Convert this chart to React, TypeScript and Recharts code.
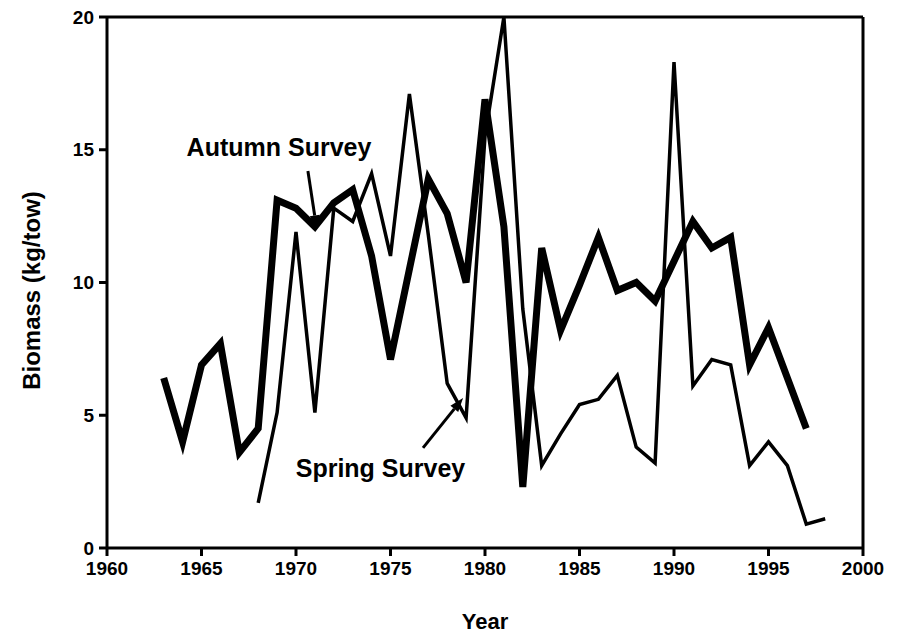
import React from "react";
import {
  LineChart,
  Line,
  XAxis,
  YAxis,
  ReferenceLine,
  ReferenceDot,
} from "recharts";

const years = [
  1963, 1964, 1965, 1966, 1967, 1968, 1969, 1970, 1971, 1972, 1973, 1974,
  1975, 1976, 1977, 1978, 1979, 1980, 1981, 1982, 1983, 1984, 1985, 1986,
  1987, 1988, 1989, 1990, 1991, 1992, 1993, 1994, 1995, 1996, 1997, 1998,
];

// thick line
const autumn = [
  6.4, 4.0, 6.9, 7.7, 3.6, 4.5, 13.1, 12.8, 12.1, 13.0, 13.5, 11.0,
  7.1, 10.5, 13.9, 12.6, 10.0, 16.9, 12.1, 2.3, 11.3, 8.2, 9.9, 11.7,
  9.7, 10.0, 9.3, 10.8, 12.3, 11.3, 11.7, 6.9, 8.3, 6.4, 4.5, null,
];

// thin line
const spring = [
  null, null, null, null, null, 1.7, 5.1, 11.9, 5.1, 12.8, 12.3, 14.1,
  11.0, 17.1, 11.8, 6.2, 4.9, 15.5, 20, 9.0, 3.1, 4.3, 5.4, 5.6,
  6.5, 3.8, 3.2, 18.3, 6.1, 7.1, 6.9, 3.1, 4.0, 3.1, 0.9, 1.1,
];

const xTicks = [1960, 1965, 1970, 1975, 1980, 1985, 1990, 1995, 2000];
const yTicks = [0, 5, 10, 15, 20];

const data = years.map((year, i) => ({
  year,
  autumn: autumn[i],
  spring: spring[i],
}));

const FONT = "'Liberation Sans', Arial, sans-serif";

const tickStyle = {
  fill: "#000",
  fontSize: 19,
  fontWeight: "bold" as const,
  fontFamily: FONT,
};

const Arrow = (props: any) => {
  const { x1, y1, x2, y2 } = props;
  if (x1 == null) return null;
  const ang = Math.atan2(y2 - y1, x2 - x1);
  const len = 14;
  const w = 5;
  const bx = x2 - len * Math.cos(ang);
  const by = y2 - len * Math.sin(ang);
  const px = -Math.sin(ang) * w;
  const py = Math.cos(ang) * w;
  return (
    <g>
      <line x1={x1} y1={y1} x2={bx} y2={by} stroke="#000" strokeWidth={3} />
      <polygon
        points={`${x2},${y2} ${bx + px},${by + py} ${bx - px},${by - py}`}
        fill="#000"
      />
    </g>
  );
};

const YTitle = (props: any) => {
  const vb = props.viewBox || {};
  const cx = 31;
  const cy = vb.y + vb.height / 2 + 8;
  return (
    <text
      x={cx}
      y={cy}
      transform={`rotate(-90, ${cx}, ${cy})`}
      textAnchor="middle"
      dominantBaseline="central"
      fill="#000"
      fontSize={24}
      fontWeight="bold"
      fontFamily={FONT}
    >
      Biomass (kg/tow)
    </text>
  );
};

const noteLabel = (value: string) => ({
  value,
  position: "center" as const,
  fill: "#000",
  fontSize: 25,
  fontWeight: "bold",
  fontFamily: FONT,
});

export default function App() {
  return (
    <div
      style={{
        position: "absolute",
        left: 0,
        top: 0,
        width: 901,
        height: 638,
        background: "#fff",
      }}
    >
      <LineChart
        width={901}
        height={638}
        data={data}
        margin={{ top: 17, right: 38, bottom: 3, left: 32 }}
      >
        <XAxis
          dataKey="year"
          type="number"
          domain={[1960, 2000]}
          ticks={xTicks}
          allowDataOverflow
          height={87}
          stroke="#000"
          strokeWidth={3}
          tickSize={8}
          tickMargin={6}
          tick={tickStyle}
          label={{
            value: "Year",
            position: "insideBottom",
            offset: 6,
            fill: "#000",
            fontSize: 22,
            fontWeight: "bold",
            fontFamily: FONT,
          }}
        />
        <YAxis
          type="number"
          domain={[0, 20]}
          ticks={yTicks}
          allowDataOverflow
          width={75}
          stroke="#000"
          strokeWidth={3}
          tickSize={8}
          tickMargin={5}
          tick={tickStyle}
          label={<YTitle />}
        />
        <ReferenceLine y={20} stroke="#000" strokeWidth={3} />
        <ReferenceLine x={2000} stroke="#000" strokeWidth={3} />
        <Line
          type="linear"
          dataKey="autumn"
          stroke="#000"
          strokeWidth={7}
          dot={false}
          activeDot={false}
          isAnimationActive={false}
        />
        <Line
          type="linear"
          dataKey="spring"
          stroke="#000"
          strokeWidth={3.5}
          dot={false}
          activeDot={false}
          isAnimationActive={false}
        />
        <ReferenceDot
          x={1969.1}
          y={15.1}
          r={0}
          fill="none"
          stroke="none"
          label={noteLabel("Autumn Survey")}
        />
        <ReferenceLine
          segment={[
            { x: 1970.63, y: 14.2 },
            { x: 1971.1, y: 12.0 },
          ]}
          shape={<Arrow />}
        />
        <ReferenceDot
          x={1974.47}
          y={3.0}
          r={0}
          fill="none"
          stroke="none"
          label={noteLabel("Spring Survey")}
        />
        <ReferenceLine
          segment={[
            { x: 1976.72, y: 3.77 },
            { x: 1978.84, y: 5.65 },
          ]}
          shape={<Arrow />}
        />
      </LineChart>
    </div>
  );
}
